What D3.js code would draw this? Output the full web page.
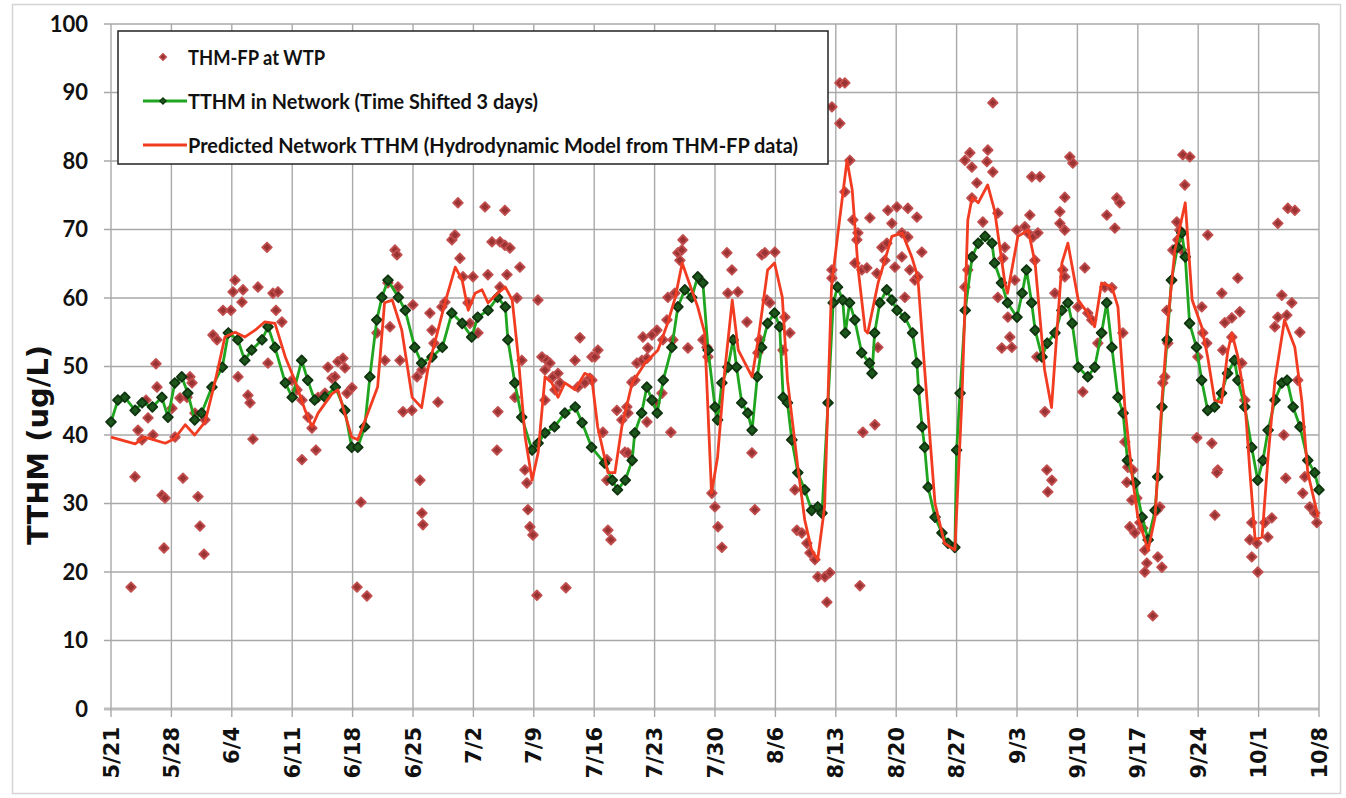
<!DOCTYPE html>
<html>
<head>
<meta charset="utf-8">
<script src="https://cdn.jsdelivr.net/npm/d3@7/dist/d3.min.js"></script>
<style>
  body { margin: 0; background: #fff; }
  svg { display: block; }
</style>
</head>
<body>
<div id="chart"></div>
<script>
// days are counted from 5/21
var fpDay = [18.08,14.37,14.14,15.30,15.18,17.03,18.77,19.35,12.98,13.90,19.12,19.81,11.82,12.28,5.21,5.33,18.19,14.72,15.87,16.11,9.15,9.39,4.06,4.29,7.07,8.00,8.81,9.73,10.89,3.13,3.59,4.87,7.42,16.45,2.78,5.91,6.26,8.34,10.08,10.31,6.14,10.78,2.32,20.97,21.55,22.13,22.83,23.29,22.13,23.75,25.14,26.30,26.88,27.11,25.61,25.96,23.99,24.80,27.93,
  28.51,29.66,28.97,27.35,32.91,33.14,32.10,33.26,32.33,31.75,30.82,33.49,34.99,33.84,34.88,35.46,36.04,35.81,36.04,36.15,37.89,36.96,37.20,37.43,38.35,38.70,39.51,39.86,40.21,40.44,40.79,41.95,41.37,41.60,42.53,43.34,43.68,44.15,45.08,45.65,46.23,45.65,45.89,47.39,45.08,47.05,47.62,46.81,44.84,44.73,47.97,48.20,48.32,48.55,48.90,49.36,49.48,49.94,50.52,50.87,50.29,51.22,51.80,51.45,52.03,50.29,52.72,53.77,54.35,54.11,54.92,55.50,55.74,
  55.74,56.43,56.08,57.01,57.47,57.47,57.59,57.94,58.63,59.21,59.79,59.91,59.56,59.91,60.37,60.72,60.95,61.53,62.11,61.65,62.69,63.27,62.22,63.96,64.43,62.11,63.04,63.85,64.89,65.12,64.54,65.35,65.70,66.16,65.93,66.28,66.86,69.06,69.18,68.60,69.64,69.99,70.34,70.80,71.38,71.96,71.49,72.65,73.70,74.28,74.62,74.97,75.20,75.43,75.78,76.94,76.01,76.36,78.10,78.68,77.87,78.91,79.26,79.49,80.07,80.65,81.00,81.58,81.92,82.74,83.31,82.97,83.55,
  84.47,85.05,83.55,84.47,85.63,85.05,83.55,85.98,86.56,86.44,86.21,87.02,87.60,87.95,88.76,88.88,87.14,88.53,86.79,90.03,91.08,92.35,93.40,90.50,89.34,89.92,89.69,91.66,92.35,90.85,91.66,92.00,92.58,93.16,93.51,93.97,102.20,98.96,99.54,99.77,101.62,101.51,102.20,100.35,99.77,101.04,102.78,103.59,103.36,99.30,98.96,102.78,103.94,104.17,104.40,103.24,104.75,104.98,105.91,106.26,106.84,106.49,106.72,107.65,107.42,107.07,107.30,108.23,108.46,109.04,108.57,109.97,110.54,109.97,111.12,110.31,109.39,
  111.47,110.54,110.54,112.86,115.41,116.57,116.92,116.34,112.05,113.21,113.67,114.37,114.83,112.63,115.18,115.99,117.27,117.50,117.84,118.42,117.73,118.31,118.89,118.08,118.66,119.24,119.58,119.81,120.05,119.81,121.32,121.79,121.21,121.55,122.13,121.90,122.48,122.36,122.94,123.06,123.64,123.52,123.87,124.45,124.22,125.03,124.10,127.11,126.42,126.54,127.00,125.96,125.84,127.58,128.27,128.16,127.93,128.74,130.59,129.08,129.90,130.82,128.85,129.90,131.05,131.40,132.21,131.98,132.21,132.79,132.91,133.72,134.07,134.53,135.23,136.39,137.20,135.69,136.85,135.23,134.88,136.27,137.78,135.92,136.15,137.54,138.35,138.12,138.93,139.51,139.75,120.74];
var fpVal = [67.4,62.6,60.9,61.2,59.4,61.6,60.7,60.9,58.2,58.2,58.2,56.5,54.6,53.9,50.4,47,50.5,48.5,45.8,44.7,48.5,47.6,45.1,42.5,43.9,45.4,45.5,43.2,42.2,40.7,39.3,40,39.7,39.4,33.9,31.2,30.8,33.7,31,26.7,23.5,22.6,17.8,48,46.6,45.1,42.6,41,36.4,37.8,49.9,50.7,51.2,49.8,48.3,48.5,45.5,46.1,46.9,
  17.8,16.5,30.2,46.1,67,66.3,62.2,61.6,55.8,50.9,54.9,50.9,59,43.4,43.6,48.5,49.5,33.4,28.6,26.9,44.8,57.8,55.3,53.4,58.7,59.4,68.5,69.2,73.9,65.8,63.1,63.1,59.3,56.3,54.9,73.3,63.4,68.2,68.2,67.7,67.3,72.8,63.4,64.5,61.6,60,50.9,45.5,43.4,37.8,34.9,33,29.1,26.6,25.4,16.6,59.7,51.4,50.9,50.5,49.5,48.5,49,46.6,47.6,45.1,17.7,50.9,54.2,47,47.6,48.3,51.4,
  48,52.4,51.4,40.4,36.4,33.4,26.1,24.7,43.6,42.2,44.1,43.2,37.5,37.4,47.7,48,50.5,50.9,51.2,54.3,54.6,55.3,52.7,53.9,56.8,41.9,44.7,46.1,40.4,53.9,60.1,60.7,66.6,67,65.5,68.5,52.7,52.8,51.4,53.9,31.5,29.5,26.6,23.6,66.6,64.1,60.7,60.9,56.5,37.4,29.1,52,53.9,66.3,66.6,66.7,59.7,59.3,57.2,54.9,52.4,39.3,32,26.1,25.7,24.2,22.8,21.8,19.3,19.3,19.9,15.6,62.9,
  91.4,91.4,87.9,85.5,80.1,75.5,64.1,71.4,69.5,68.5,65.1,64.1,64.4,71.7,63.6,52.8,40.4,41.5,18,72.8,73.3,73.1,71.8,70.9,67.4,68,65.5,69.5,68.9,64.5,66,60.1,64.1,62.6,63.1,66.7,88.5,80.1,81.2,79.1,81.6,79.9,78.4,76.8,74.6,71.1,72.4,67.4,65.8,64.1,61.6,60.1,57.2,54.3,52.8,52.7,62.6,69.9,70.4,69.5,68.9,72.1,77.7,77.7,69.5,65.5,51.4,43.4,34.9,33.4,31.7,70.9,74.7,72.6,80.6,64.1,60.7,
  79.7,69.9,63.1,64.4,72.1,74.6,73.9,70.2,58.7,57.8,56.8,53.4,54.9,46.3,61.6,61.5,54.9,39,35.3,34.9,33.1,30.5,30.8,26.6,25.7,27.2,26.4,23.2,21.3,20,22.2,20.7,29,29.5,48.5,47.6,53.4,58.2,62.6,67,68.5,71.1,69.9,76.5,80.9,80.6,67,69.2,58.7,54.9,53.4,51.4,39.6,38.8,34.9,34.5,28.3,60.7,62.9,56.4,57.1,58,52.4,54.3,50.5,45.1,27.2,24.7,22.2,24.2,20,27.2,25.1,27.9,70.9,73.1,72.8,60.4,59.3,57.2,55.8,57.5,55,40,33.7,48,33.9,31.5,29.5,28.6,27.2,13.6];

var netDay = [0,0.8,1.6,2.8,3.6,4.8,5.9,6.6,7.4,8.2,8.9,9.7,10.5,11.7,12.9,13.6,14.7,15.5,16.3,17.5,18.2,19.0,20.2,21.0,22.1,22.8,23.6,24.8,26.0,27.1,27.9,28.6,29.4,30.0,30.8,31.4,32.1,33.3,34.1,35.2,36.0,37.2,38.4,39.5,40.7,41.8,42.5,43.7,44.8,45.7,46.0,46.8,47.6,48.8,49.5,50.3,51.4,52.6,53.8,54.6,55.7,57.2,58.1,58.7,59.6,60.4,60.7,61.5,62.1,62.7,63.3,64.0,65.0,65.7,66.5,67.3,68.0,68.6,69.2,70.0,70.3,70.8,71.5,72.1,72.5,73.1,73.8,74.3,74.9,75.4,76.1,76.9,77.5,77.9,78.4,78.9,79.6,80.4,81.2,81.9,82.4,83.1,83.7,84.2,84.8,85.1,85.6,86.2,87.0,87.9,88.2,88.5,89.1,89.9,90.5,91.1,92.0,92.9,93.4,93.6,94.0,94.3,94.7,95.5,96.3,97.0,97.8,98.0,98.4,99.0,99.8,100.5,101.3,102.1,102.4,103.2,103.9,105.0,105.6,106.1,106.7,107.1,107.9,108.5,109.4,110.2,110.9,111.4,112.1,113.2,114.0,114.8,115.4,116.0,116.7,117.3,117.8,118.7,119.5,120.2,121.0,121.3,121.8,122.4,122.9,123.6,124.1,124.5,125.0,125.8,126.4,127.1,127.9,128.7,129.4,130.2,130.6,131.4,132.2,132.9,133.5,134.1,134.9,135.7,136.3,137.0,137.8,138.7,139.5,140];
var netVal = [41.9,45.1,45.5,43.6,44.7,44.1,45.5,42.6,47.6,48.5,46.1,42.2,43.2,47,49.9,54.9,53.9,50.9,52.4,53.9,55.8,52.8,47.6,45.5,50.9,48,45.1,45.5,47,43.6,38.2,38.2,41.2,48.5,56.8,60.1,62.6,60.1,58.2,52.8,50.5,51.4,52.8,57.8,56.3,54.3,57.2,58.2,60.1,58.7,53.9,47.6,42.6,37.8,38.8,40.3,41.2,43.2,44.1,41.8,38.2,35.9,33.4,32,33.4,36.3,40.3,43.2,47,45.1,43.2,48,52.8,58.7,61.2,60.1,63.1,62.2,52.4,44.1,42.2,47.6,49.9,53.9,49.9,44.7,43.2,40.7,48.5,52.8,56.3,57.8,55.8,45.5,44.7,39.3,34.5,32,29,29.5,28.6,44.7,59.3,61.6,59.7,54.9,59.3,56.8,52,50.5,49,54.9,59.3,61.2,59.7,58.2,57.2,54.9,50.5,46.6,41.2,38.2,32.4,28,25.7,24.2,23.6,37.8,46.1,58.2,66,68,69,68,65.1,62.2,59.3,57.2,60.7,64.1,59.3,55.3,51.4,53.4,54.9,58.2,59.3,56.3,49.9,48.5,49.9,54.9,59.3,52.8,45.5,43.2,36.3,33,28,24.7,29,33.9,44.1,53.9,62.6,67.4,69.5,66,56.3,52.8,48,43.6,44.1,46.1,49,50.9,48,44.1,38.2,33.4,36.3,40.7,45.1,47.6,48,44.1,41.2,36.3,34.5,32];

var predDay = [0,2.8,3.9,6.3,7.4,8.6,9.7,10.9,12.1,13.2,14.4,15.5,16.7,17.8,19.0,20.2,21.3,22.5,23.3,24.0,25.6,26.3,27.9,28.6,30.9,31.7,32.6,33.7,34.9,36.0,36.7,37.9,38.7,39.9,40.7,41.4,42.2,43.0,43.7,44.8,45.7,46.5,47.2,48.0,48.8,49.5,50.3,51.1,51.8,52.6,53.8,54.9,55.7,56.4,57.6,58.4,59.2,60.4,61.9,63.4,64.5,65.4,66.2,66.9,68.0,68.8,69.6,70.3,71.1,72.0,72.7,74.3,75.0,76.1,76.9,77.8,78.4,79.6,80.4,81.2,81.9,82.7,83.5,84.2,85.3,85.9,86.6,87.4,87.7,88.9,90.5,91.7,92.8,93.5,94.3,95.5,96.6,97.8,98.6,99.3,99.8,100.5,101.6,102.4,103.6,103.9,105.1,106.3,107.1,108.2,109.0,110.2,110.9,112.1,113.2,114.0,114.8,116.0,116.7,117.5,118.3,119.0,120.2,121.0,121.8,122.5,123.3,124.5,125.3,126.4,127.1,127.9,128.7,129.4,129.9,130.6,131.4,132.0,132.6,133.4,134.1,134.9,136.0,137.2,138.0,138.7,139.9];
var predVal = [39.7,38.7,39.7,38.8,39.5,41.5,40,41.9,48,54.3,55,54.3,55.3,56.5,56.3,51.4,48,43.6,41.2,43.2,46,46.6,39.7,39.3,47,59.3,59.7,55.3,45.5,44,49.5,55.3,59.3,64.5,62.6,58.2,60.7,61.2,59.3,60.7,61.6,59.7,51.4,39.7,33.4,37.4,48.5,47.6,45.5,47.6,46.6,49,48.5,41.2,34.5,34.5,41.2,47.6,50.5,52.4,56.3,60.1,65.1,62.6,58.7,54.9,31.5,36.8,49,59.7,52.4,48.5,53.9,64.1,65.1,60.1,48,35.3,27.6,23.2,21.8,29.5,61.6,69,80.1,75.8,64.1,55.3,54.9,62.2,69,69.5,66,63.1,49.5,30,24.2,23.2,44.7,71.4,74.7,73.9,76.5,72.8,62.2,60.7,69,69.9,65.1,49.5,44,65.1,68,59.7,57.8,55.8,62.2,61.6,58.7,44.1,34.5,28,23.2,28,45.1,56.8,67,73.9,59.7,55.8,51.4,45.1,44.7,52,54.9,51.4,45.1,34.5,24.7,25.1,36.8,48,56.8,52.8,45.1,34.5,28];

var yTicks = [0,10,20,30,40,50,60,70,80,90,100];
var weekDays = [0,7,14,21,28,35,42,49,56,63,70,77,84,91,98,105,112,119,126,133,140];

var legendNames = ["THM-FP at WTP", "TTHM in Network (Time Shifted 3 days)", "Predicted Network TTHM (Hydrodynamic Model from THM-FP data)"];

var W = 1346, H = 798;
var START = new Date(2012, 4, 21);
function toDate(d) { return new Date(START.getTime() + d * 864e5); }

var svg = d3.select("#chart").append("svg").attr("width", W).attr("height", H);

// outer frame
svg.append("rect").attr("x", 12.5).attr("y", 4.5).attr("width", 1328).attr("height", 789)
  .attr("fill", "#fff").attr("stroke", "#d4d4d4").attr("stroke-width", 1.5);

var x = d3.scaleTime().domain([toDate(0), toDate(140)]).range([111, 1319]);
var y = d3.scaleLinear().domain([0, 100]).range([709, 24]);
var fmt = d3.timeFormat("%-m/%-d");

// grid
var g = svg.append("g");
g.selectAll(".hg").data(yTicks).enter().append("line")
  .attr("x1", 104).attr("x2", 1319)
  .attr("y1", function (d) { return y(d); }).attr("y2", function (d) { return y(d); })
  .attr("stroke", function (d) { return d == 0 ? "#bdbdbd" : "#a9a9a9"; })
  .attr("stroke-width", function (d) { return d == 0 ? 3 : 1.4; });
g.selectAll(".vg").data(weekDays).enter().append("line")
  .attr("x1", function (d) { return x(toDate(d)); }).attr("x2", function (d) { return x(toDate(d)); })
  .attr("y1", y(100)).attr("y2", 717)
  .attr("stroke", "#a9a9a9").attr("stroke-width", 1.4);

// y labels
svg.selectAll(".yl").data(yTicks).enter().append("text")
  .attr("x", 88).attr("y", function (d) { return y(d); }).attr("dy", "0.36em")
  .attr("text-anchor", "end")
  .style("font-family", "Lato, 'Open Sans', sans-serif").style("font-weight", "bold")
  .style("font-size", "22px").attr("fill", "#111")
  .text(function (d) { return d; });

// x labels
svg.selectAll(".xl").data(weekDays).enter().append("text")
  .attr("transform", function (d) { return "translate(" + x(toDate(d)) + ",727) rotate(-90)"; })
  .attr("dy", "0.36em").attr("text-anchor", "end")
  .style("font-family", "'DejaVu Sans', sans-serif").style("font-weight", "bold")
  .style("font-size", "21px").attr("fill", "#111")
  .text(function (d) { return fmt(toDate(d)); });

// y title
svg.append("text")
  .attr("transform", "translate(38,445) rotate(-90)")
  .attr("dy", "0.36em").attr("text-anchor", "middle")
  .attr("textLength", 200).attr("lengthAdjust", "spacingAndGlyphs")
  .style("font-family", "'DejaVu Sans', sans-serif").style("font-weight", "bold")
  .style("font-size", "28px").attr("fill", "#111")
  .text("TTHM (ug/L)");

// square turned 45 degrees = diamond marker like the spreadsheet one
var marker = d3.symbol().type(d3.symbolSquare);
function place(p) { return "translate(" + x(toDate(p.d)) + "," + y(p.v) + ") rotate(45)"; }

// THM-FP scatter
var fp = fpDay.map(function (d, i) { return { d: d, v: fpVal[i] }; });
svg.append("g").selectAll("path").data(fp).enter().append("path")
  .attr("d", marker.size(46))
  .attr("transform", place)
  .attr("fill", "#9a3333").attr("stroke", "#c24e4e").attr("stroke-width", 1.8)
  .attr("stroke-linejoin", "round");

// TTHM network
var net = netDay.map(function (d, i) { return { d: d, v: netVal[i] }; });
var line = d3.line()
  .x(function (p) { return x(toDate(p.d)); })
  .y(function (p) { return y(p.v); });
svg.append("path").datum(net).attr("d", line)
  .attr("fill", "none").attr("stroke", "#20a520").attr("stroke-width", 2.8).attr("stroke-linejoin", "round");
svg.append("g").selectAll("path").data(net).enter().append("path")
  .attr("d", marker.size(48))
  .attr("transform", place)
  .attr("fill", "#1d561d").attr("stroke", "#0e330e").attr("stroke-width", 1.8)
  .attr("stroke-linejoin", "round");

// predicted
var pred = predDay.map(function (d, i) { return { d: d, v: predVal[i] }; });
svg.append("path").datum(pred).attr("d", line)
  .attr("fill", "none").attr("stroke", "#f23c22").attr("stroke-width", 2.8).attr("stroke-linejoin", "round");

// legend
var lg = svg.append("g");
lg.append("rect").attr("x", 118).attr("y", 31).attr("width", 710).attr("height", 133)
  .attr("fill", "#fff").attr("stroke", "#222").attr("stroke-width", 1.5);
var rows = [57, 101, 145];
var lens = [137, 350, 610];
lg.append("path").attr("d", marker.size(24)).attr("transform", "translate(163," + rows[0] + ") rotate(45)")
  .attr("fill", "#9a3333").attr("stroke", "#c24e4e").attr("stroke-width", 1.2);
lg.append("line").attr("x1", 143).attr("x2", 187).attr("y1", rows[1]).attr("y2", rows[1])
  .attr("stroke", "#20a520").attr("stroke-width", 2.8);
lg.append("path").attr("d", marker.size(20)).attr("transform", "translate(163," + rows[1] + ") rotate(45)")
  .attr("fill", "#1d561d").attr("stroke", "#0e330e").attr("stroke-width", 1.2);
lg.append("line").attr("x1", 143).attr("x2", 187).attr("y1", rows[2]).attr("y2", rows[2])
  .attr("stroke", "#f23c22").attr("stroke-width", 2.8);
lg.selectAll("text").data(legendNames).enter().append("text")
  .attr("x", 188).attr("y", function (d, i) { return rows[i]; }).attr("dy", "0.36em")
  .attr("textLength", function (d, i) { return lens[i]; }).attr("lengthAdjust", "spacingAndGlyphs")
  .style("font-family", "Lato, 'Open Sans', sans-serif").style("font-weight", "bold")
  .style("font-size", "21px").attr("fill", "#111")
  .text(function (d) { return d; });
</script>
</body>
</html>
